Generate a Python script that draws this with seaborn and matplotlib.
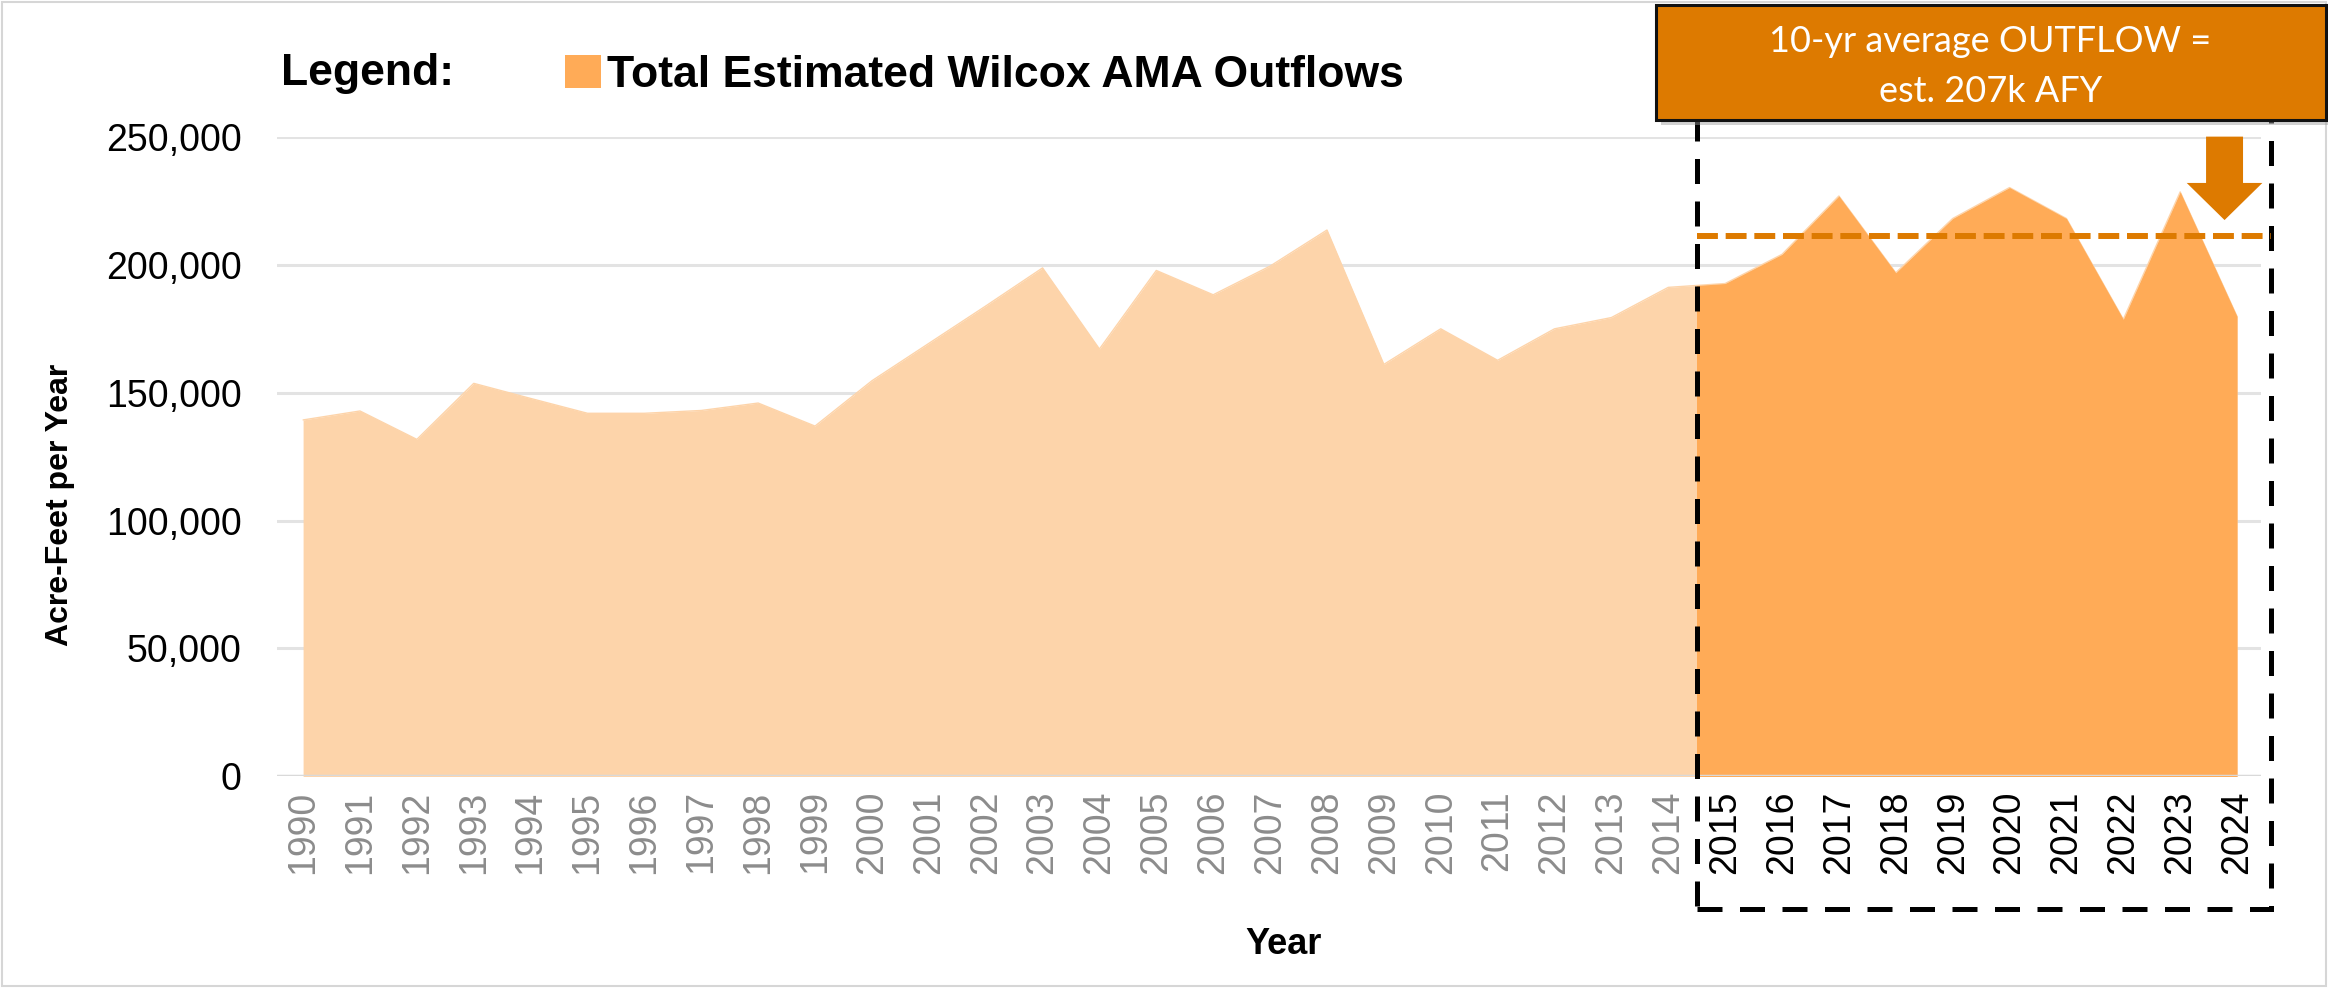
import matplotlib
matplotlib.use("Agg")
import matplotlib.pyplot as plt
import matplotlib.transforms as mtransforms
from matplotlib.patches import Rectangle, FancyArrow, Patch
import pandas as pd
import seaborn as sns

# ---------------------------------------------------------------------------
# Data
# ---------------------------------------------------------------------------
years = list(range(1990, 2025))
outflow_af = [
    139300, 142800, 131700, 153600, 147700, 141900, 141900, 143000, 145900, 136900,
    154600, 169200, 183800, 198700, 167000, 197700, 188200, 199400, 213500, 161000,
    174900, 162600, 174900, 179300, 191100, 192600, 204000, 226800, 196800, 218000,
    230100, 218000, 178600, 228400, 179700,
]
recent_first_year = 2015
y_ticks = [0, 50000, 100000, 150000, 200000, 250000]
avg_marker_af = 211000          # where the dashed average marker sits
series_label = "Total Estimated Wilcox AMA Outflows"
callout_lines = ["10-yr average OUTFLOW =", "est. 207k AFY"]

LIGHT = "#FDD4AA"
DARK = "#FFAB57"
ORANGE = "#DD7A00"
GRID = "#E3E3E3"

ARIAL = ["Liberation Sans", "DejaVu Sans"]

sns.set_theme(style="white")
plt.rcParams.update({
    "font.family": ARIAL,
    "text.color": "black",
    "axes.labelcolor": "black",
})

df = pd.DataFrame({"year": years, "outflow": outflow_af})

fig = plt.figure(figsize=(23.28, 9.9), dpi=100)
fig.patch.set_facecolor("white")
ax = fig.add_axes([0.1192, 0.2157, 0.852, 0.6463])

# light area for the whole record
ax.fill_between(df["year"], df["outflow"], color=LIGHT, lw=0, zorder=2)
sns.lineplot(data=df, x="year", y="outflow", color=LIGHT, lw=1, ax=ax, zorder=2)

# darker area for the last ten years, clipped to the highlight box
box_x0, box_x1 = recent_first_year - 0.5, years[-1] + 0.6
blend = mtransforms.blended_transform_factory(ax.transData, ax.transAxes)
recent = df[df["year"] >= recent_first_year - 1]
dark = ax.fill_between(recent["year"], recent["outflow"], color=DARK, lw=0, zorder=2.5)
clip_rect = Rectangle((box_x0, 0), box_x1 - box_x0, 1, transform=blend)
dark.set_clip_path(clip_rect)

ax.set_xlim(years[0] - 0.45, years[-1] + 0.42)
ax.set_ylim(y_ticks[0], y_ticks[-1])
ax.set_axisbelow(True)
ax.yaxis.grid(True, color=GRID, lw=2.2)
ax.xaxis.grid(False)
ax.axhline(0, color="#D9D9D9", lw=2.5, zorder=3)
sns.despine(ax=ax, left=True, bottom=True)

ax.set_yticks(y_ticks)
ax.set_yticklabels([f"{v:,}" for v in y_ticks], fontsize=27, color="black")
ax.set_xticks(years)
ax.set_xticklabels([str(y) for y in years], rotation=90, fontsize=27)
for lbl, yr in zip(ax.get_xticklabels(), years):
    lbl.set_color("black" if yr >= recent_first_year else "#8C8C8C")
ax.tick_params(axis="y", length=0, pad=26)
ax.tick_params(axis="x", length=0, pad=10)

ax.set_xlabel("Year", fontsize=26, fontweight="bold", color="black")
ax.xaxis.set_label_coords(0.507, -0.236)
ax.set_ylabel("Acre-Feet per Year", fontsize=23, fontweight="bold", color="black")
ax.yaxis.set_label_coords(-0.102, 0.424)

# dashed highlight box around the last ten years
ax.add_patch(Rectangle((box_x0, -0.2064), box_x1 - box_x0, 1.25, transform=blend,
                       fill=False, ec="black", lw=3.6, ls=(0, (5, 3.5)),
                       clip_on=False, zorder=4))

# dashed average marker
ax.plot([box_x0, box_x1], [avg_marker_af, avg_marker_af], color=ORANGE, lw=4.3,
        ls=(0, (3.5, 1.3)), zorder=5, clip_on=False)

# down arrow
ax.add_patch(FancyArrow(2023.78, 250000, 0, -32600, width=0.65, head_width=1.33,
                        head_length=14500, length_includes_head=True,
                        color=ORANGE, lw=0, zorder=5, clip_on=False))

# callout box with shadow
fig.patches.append(Rectangle((0.7135, 0.8740), 0.2878, 0.1162, transform=fig.transFigure,
                             fc="#9A9A9A", ec="none", alpha=0.45, zorder=5))
fig.patches.append(Rectangle((0.7113, 0.8788), 0.2878, 0.1162, transform=fig.transFigure,
                             fc=ORANGE, ec="#111111", lw=2.2, zorder=6))
fig.text(0.855, 0.9576, callout_lines[0], ha="center", va="center", fontsize=26,
         color="white", family=["Lato", "DejaVu Sans"], zorder=7)
fig.text(0.855, 0.908, callout_lines[1], ha="center", va="center", fontsize=26,
         color="white", family=["Lato", "DejaVu Sans"], zorder=7)

# legend
fig.text(0.1207, 0.914, "Legend:", fontsize=32, fontweight="bold", va="baseline",
         color="black")
fig.legend(handles=[Patch(fc=DARK, ec="none", label=series_label)],
           loc="center left", bbox_to_anchor=(0.2427, 0.924), frameon=False,
           prop={"weight": "bold", "size": 32}, labelcolor="black",
           handlelength=0.8, handleheight=0.75, handletextpad=0.15, borderpad=0,
           borderaxespad=0)

# thin frame round the figure
fig.patches.append(Rectangle((0.001, 0.004), 0.998, 0.994, transform=fig.transFigure,
                             fill=False, ec="#D6D6D6", lw=1.5))

fig.savefig("out.png", dpi=100)
